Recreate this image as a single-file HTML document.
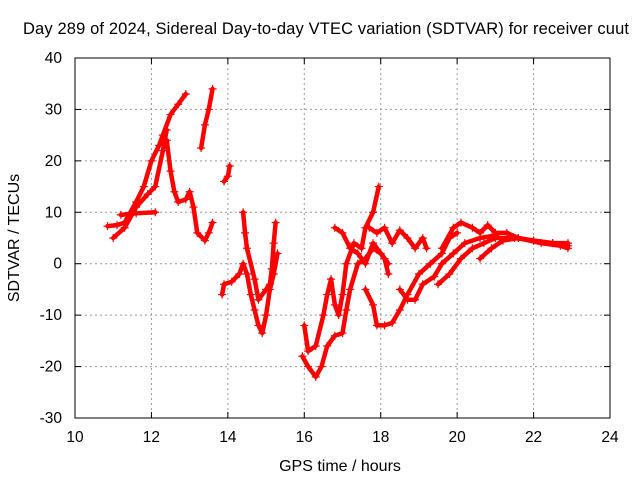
<!DOCTYPE html>
<html><head><meta charset="utf-8"><style>
body{margin:0;background:#fff}
svg{display:block;font-family:"Liberation Sans",sans-serif}
</style></head><body>
<svg id="chart" width="640" height="480">
<text x="326" y="34" text-anchor="middle" font-size="16.5" textLength="606">Day 289 of 2024, Sidereal Day-to-day VTEC variation (SDTVAR) for receiver cuut</text>
<text x="340" y="471" text-anchor="middle" font-size="16">GPS time / hours</text>
<text transform="translate(19,238) rotate(-90)" text-anchor="middle" font-size="16">SDTVAR / TECUs</text>
<g id="grid"></g><g id="marks"></g>
<rect x="75" y="58" width="535" height="360" fill="none" stroke="#000"/>
</svg>
<script>
const xTicks=[10,12,14,16,18,20,22,24];
const yTicks=[-30,-20,-10,0,10,20,30,40];
const trackA=[[10.85,7.3],[11.1,7.5],[11.3,8],[11.6,12],[11.8,15],[12.0,20],[12.2,23],[12.3,25],[12.5,29],[12.7,31],[12.9,33]];
const trackB=[[11.0,5],[11.3,7],[11.6,11],[11.9,13.5],[12.1,15],[12.3,22],[12.4,26]];
const trackC=[[11.2,9.5],[11.6,9.8],[12.1,10]];
const trackD=[[12.4,24],[12.5,18],[12.6,14],[12.7,12],[12.9,12.5],[13.0,14],[13.1,11],[13.2,6],[13.4,4.5],[13.5,6],[13.6,8]];
const trackE=[[13.3,22.5],[13.4,27],[13.5,30],[13.6,34]];
const trackF=[[13.9,16],[14.0,17],[14.05,19]];
const trackG=[[13.85,-6],[13.9,-4],[14.1,-3.5],[14.3,-2],[14.4,0],[14.5,-2],[14.6,-6],[14.7,-9],[14.8,-12],[14.9,-13.5],[15.0,-10],[15.1,-5],[15.2,-2],[15.3,2]];
const trackH=[[14.4,10],[14.45,6],[14.5,3],[14.7,-3],[14.8,-7],[15.0,-5],[15.1,-4],[15.15,-1],[15.2,4],[15.25,8]];
const trackI=[[15.95,-18],[16.1,-20],[16.3,-22],[16.45,-20],[16.6,-16],[16.8,-14],[17.0,-13.5],[17.1,-9],[17.2,-5],[17.4,0],[17.6,1],[17.8,3],[18.0,2],[18.2,0]];
const trackJ=[[16.0,-12],[16.1,-17],[16.3,-16],[16.5,-10],[16.6,-6],[16.7,-3],[16.8,-8],[16.9,-10],[17.0,-6],[17.1,0],[17.3,4],[17.5,3],[17.6,7],[17.8,10],[17.95,15]];
const trackK=[[16.8,7],[17.0,6],[17.2,3],[17.4,2],[17.6,0],[17.8,4],[18.1,1],[18.2,-2]];
const trackL=[[17.7,7],[17.9,6],[18.1,7],[18.3,4],[18.5,6.5],[18.7,5],[18.9,3],[19.1,5],[19.2,3]];
const trackM=[[17.6,-5],[17.8,-8],[17.9,-12],[18.1,-12],[18.3,-11.5],[18.5,-9],[18.7,-6],[19.0,-2],[19.3,0],[19.6,2],[19.8,5],[20.0,6]];
const trackN=[[18.5,-5],[18.7,-7],[18.9,-7],[19.1,-4],[19.4,-2.5],[19.6,0],[19.9,2],[20.2,4],[20.6,5],[21.0,5.5]];
const trackO=[[19.5,-4],[19.8,-2],[20.1,1],[20.4,3],[20.7,4],[21.0,5],[21.5,5],[22.0,4.5],[22.5,4],[22.9,3.5]];
const trackP=[[19.6,3],[19.9,7],[20.1,8],[20.4,7],[20.6,6],[20.8,7.5],[21.0,6],[21.3,6],[21.6,5],[22.0,4.5],[22.5,4],[22.9,4]];
const trackQ=[[20.6,1],[20.9,3],[21.2,4.5],[21.6,5],[22.2,4],[22.7,3.5],[22.9,3]];
const tracks=[trackA,trackB,trackC,trackD,trackE,trackF,trackG,trackH,trackI,trackJ,trackK,trackL,trackM,trackN,trackO,trackP,trackQ];
const NS="http://www.w3.org/2000/svg";
const X=t=>75+(t-10)*535/14, Y=v=>58+(40-v)*360/70;
const grid=document.getElementById('grid'), marks=document.getElementById('marks');
function mk(tag,at,parent){const e=document.createElementNS(NS,tag);for(const k in at)e.setAttribute(k,at[k]);parent.appendChild(e);return e;}
xTicks.forEach(t=>{
 if(t>10&&t<24){const l=mk('line',{x1:X(t),x2:X(t),y1:58,y2:418,stroke:'#999','stroke-dasharray':'2,3'},grid);
 
 }
 mk('line',{x1:X(t),x2:X(t),y1:418,y2:412,stroke:'#000'},grid);mk('line',{x1:X(t),x2:X(t),y1:58,y2:64,stroke:'#000'},grid);
 const tx=mk('text',{x:X(t),y:442,'text-anchor':'middle','font-size':15.5},grid);tx.textContent=t;
 
 
});
yTicks.forEach(v=>{
 if(v>-30&&v<40){const l=mk('line',{x1:75,x2:610,y1:Y(v),y2:Y(v),stroke:'#999','stroke-dasharray':'2,3'},grid);
 
 }
 mk('line',{x1:75,x2:81,y1:Y(v),y2:Y(v),stroke:'#000'},grid);mk('line',{x1:610,x2:604,y1:Y(v),y2:Y(v),stroke:'#000'},grid);
 const tx=mk('text',{x:62,y:Y(v)+5,'text-anchor':'end','font-size':15.5},grid);tx.textContent=v;
 
 
});
tracks.forEach(tr=>{
 const pl=mk('polyline',{points:tr.map(p=>X(p[0])+','+Y(p[1])).join(' '),fill:'none',stroke:'#f00','stroke-width':4.5,'stroke-linejoin':'round','stroke-linecap':'round'},marks);
 
 
 tr.forEach(p=>{const x=X(p[0]),y=Y(p[1]);
  const m=mk('path',{d:`M${x-4},${y}h8M${x},${y-4}v8`,stroke:'#f00','stroke-width':1.2},marks);
  
  
 });
});
</script>
</body></html>
